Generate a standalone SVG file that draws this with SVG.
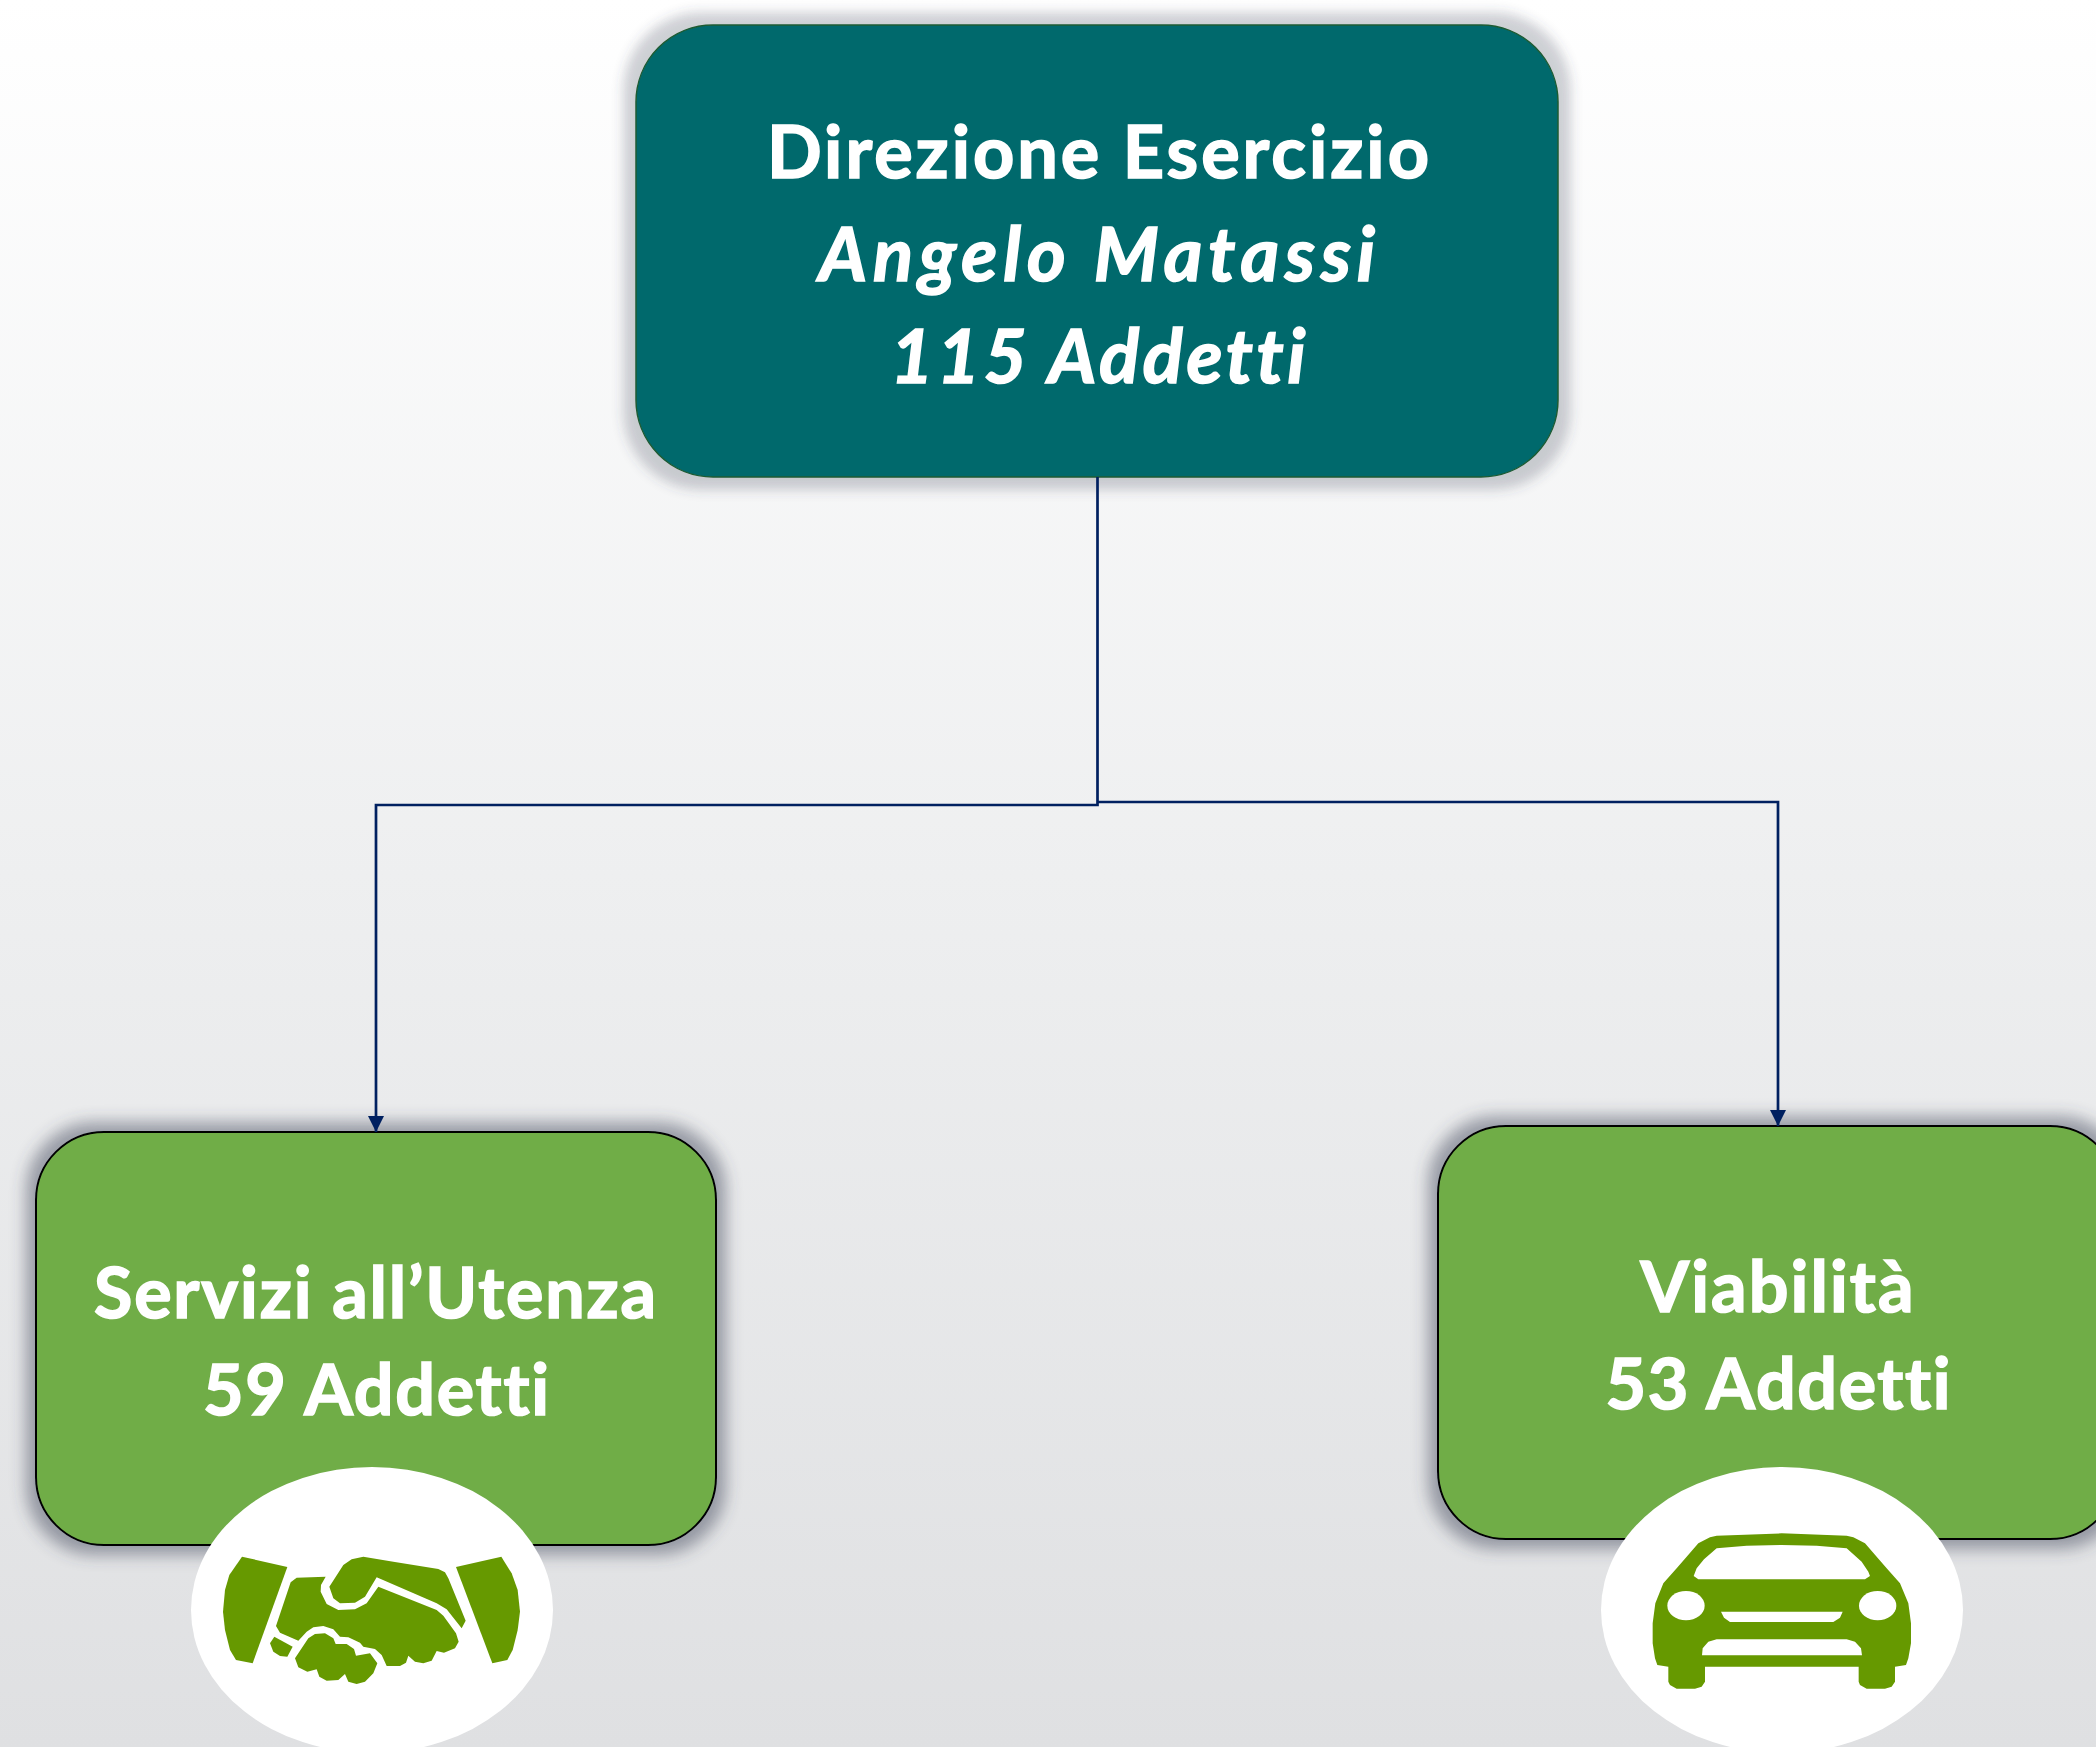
<svg xmlns="http://www.w3.org/2000/svg" width="2096" height="1747" viewBox="0 0 2096 1747">
<style>
.t{font-family:"Lato","Carlito","Open Sans",sans-serif;font-weight:700;fill:#fff;stroke:#fff;stroke-width:1.6px;text-anchor:middle;font-variant-ligatures:none}
.t1{font-size:72px}.t2{font-size:70px}.i{font-style:italic;font-size:74px}
.c{fill:none;stroke:#002060;stroke-width:2.7}
.ic{fill:#669900}
.el{fill:#fff}
</style>
<defs>
<linearGradient id="bg" x1="0" y1="0" x2="0" y2="1"><stop offset="0" stop-color="#ffffff"/><stop offset="0.5" stop-color="#eeeff0"/><stop offset="1" stop-color="#dfe0e2"/></linearGradient>
<filter id="sh1" x="-10%" y="-15%" width="120%" height="130%"><feMorphology in="SourceAlpha" operator="dilate" radius="12"/><feGaussianBlur stdDeviation="6"/><feColorMatrix type="matrix" values="0 0 0 0 0.05 0 0 0 0 0.06 0 0 0 0 0.1 0 0 0 0.25 0" result="s"/><feMerge><feMergeNode in="s"/><feMergeNode in="SourceGraphic"/></feMerge></filter>
<filter id="sh2" x="-10%" y="-15%" width="120%" height="130%"><feMorphology in="SourceAlpha" operator="dilate" radius="9"/><feGaussianBlur stdDeviation="8"/><feColorMatrix type="matrix" values="0 0 0 0 0.05 0 0 0 0 0.06 0 0 0 0 0.1 0 0 0 0.48 0" result="s"/><feMerge><feMergeNode in="s"/><feMergeNode in="SourceGraphic"/></feMerge></filter>
<marker id="arr" markerUnits="userSpaceOnUse" markerWidth="16" markerHeight="16" refX="16" refY="8" orient="auto"><path d="M0 0L16 8L0 16Z" fill="#002060"/></marker>
</defs>
<rect width="2096" height="1747" fill="url(#bg)"/>
<g id="node-direzione">
<rect x="636" y="25" width="922" height="452" rx="77" fill="#00696c" stroke="#1f5c33" stroke-width="1.5" filter="url(#sh1)"/>
<text class="t t1" x="1098" y="178" textLength="662" lengthAdjust="spacing">Direzione Esercizio</text>
<text class="t t1 i" x="1097" y="281" textLength="556" lengthAdjust="spacing">Angelo Matassi</text>
<text class="t t1 i" x="1098" y="383" textLength="415" lengthAdjust="spacing">115 Addetti</text>
</g>
<g id="node-servizi">
<rect x="36" y="1132" width="680" height="413" rx="68" fill="#70ad47" stroke="#000" stroke-width="2" filter="url(#sh2)"/>
<text class="t t2" x="375" y="1318" textLength="562" lengthAdjust="spacing">Servizi all’Utenza</text>
<text class="t t2" x="376" y="1415" textLength="346" lengthAdjust="spacing">59 Addetti</text>
<ellipse class="el" cx="372" cy="1610" rx="181" ry="143"/>
<g transform="translate(170 1450) scale(.33333)">
<path class="ic" d="M216 320L352 351L248 640L198 630L180 600L165 540L159 485L165 420L178 375Z"/>
<path class="ic" d="M994 320L858 351L967 640L1012 630L1028 600L1043 540L1050 485L1043 420L1025 370Z"/>
<path class="ic" d="M580 320L670 335L805 357L825 367L835 385L887 512L875 535L830 478L800 460L620 382L585 440L555 458L510 460L490 445L478 410L520 345L545 328Z"/>
<path class="ic" d="M467 380L380 383L362 397L318 528L330 548L385 572L410 545L430 532L460 528L490 538L510 560L535 562L570 578L580 590L615 597L635 615L650 648L690 648L708 638L715 617L735 635L760 640L785 632L800 603L822 608L855 595L866 575L858 550L820 497L800 480L625 410L590 460L555 478L505 480L470 462L452 425L453 405Z"/>
<path class="ic" d="M313 560L368 590L352 620L330 618L310 605L300 580Z"/>
<path class="ic" d="M435 552L465 550L490 565L497 582L530 582L552 597L558 617L600 610L622 640L610 670L585 695L560 702L535 695L525 672L505 690L470 692L448 680L440 658L412 665L385 652L375 625L415 565Z"/>
</g>
</g>
<g id="node-viabilita">
<rect x="1438" y="1126" width="680" height="413" rx="68" fill="#70ad47" stroke="#000" stroke-width="2" filter="url(#sh2)"/>
<text class="t t2" x="1777" y="1312" textLength="273" lengthAdjust="spacing">Viabilità</text>
<text class="t t2" x="1778" y="1409" textLength="345" lengthAdjust="spacing">53 Addetti</text>
<ellipse class="el" cx="1782" cy="1610" rx="181" ry="143"/>
<g transform="translate(1580 1450) scale(.33333)">
<path class="ic" fill-rule="evenodd" d="M605 250L800 257L820 262L855 280L890 320L920 355L960 400L985 460L993 520L993 580L985 625L978 645L945 650L945 695L935 710L915 716L860 716L840 705L836 695L836 650L375 650L375 695L365 710L345 716L290 716L270 705L265 695L265 650L232 645L225 625L218 580L218 520L226 460L250 400L290 355L320 320L355 280L390 262L410 257ZM410 295L500 287L605 285L710 287L800 295L845 335L865 365L870 378L855 388L355 388L341 378L350 355L372 328ZM423 485L788 485L780 503L760 516L450 516L432 503ZM366 616L368 595L385 575L410 568L800 568L825 575L843 595L846 616Z"/>
<ellipse class="el" cx="318" cy="467" rx="56" ry="44"/>
<ellipse class="el" cx="893" cy="467" rx="56" ry="44"/>
</g>
</g>
<g id="connectors">
<path class="c" d="M1097.5 477V805H376V1132" marker-end="url(#arr)"/>
<path class="c" d="M1097.5 802H1778V1126" marker-end="url(#arr)"/>
</g>
</svg>
